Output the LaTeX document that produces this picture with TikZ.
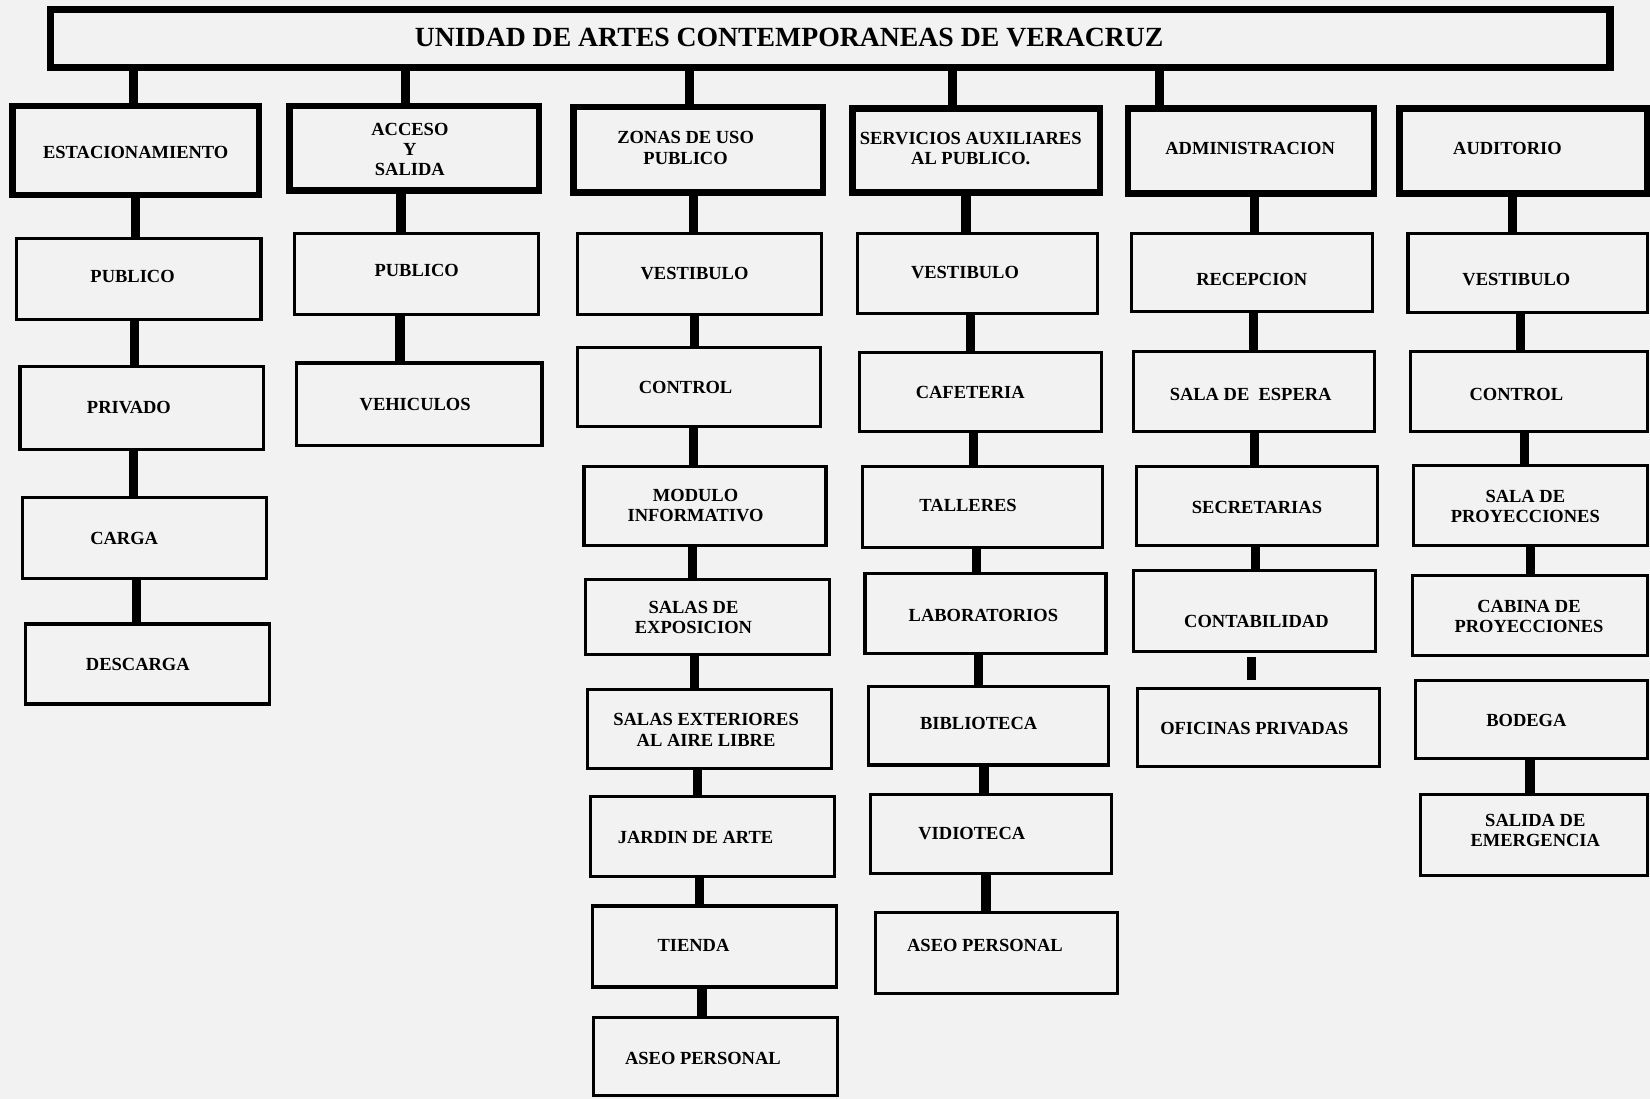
\documentclass[tikz,border=0pt]{standalone}
\usepackage{fontspec}
\setmainfont{Liberation Serif}
\newcommand\mybox[9]{\node[#1, minimum width={(#5-#3)*0.02cm}, minimum height={(#6-#4)*0.02cm},
  label={[lbl, xshift={0.02cm*(#7)}, yshift={-0.02cm*(#8)}]center:#9}] (#2) at ({(#3+#5)/2},{(#4+#6)/2}) {};}
\newcommand\link[3]{\path (#1.south) ++(#3,0) coordinate (lk); \draw[conn] (lk) -- (lk |- #2.north);}
\begin{document}
\begin{tikzpicture}[x=0.02cm,y=-0.02cm,
  lbl/.style={inner sep=0pt, align=center, font=\bfseries\fontsize{10}{11}\selectfont},
  box/.style={draw, line width=1.7pt, inner sep=0pt},
  head/.style={box, line width=3.4pt},
  titlebox/.style={draw, line width=4pt, inner sep=0pt},
  ttl/.style={inner sep=0pt, font=\bfseries\fontsize{15}{18}\selectfont},
  conn/.style={line width=5pt}]
\fill[black!5] (0,0) rectangle (1568,1044);
\useasboundingbox (0,0) rectangle (1568,1044);
% title
\node[titlebox, minimum width={1482*0.02cm}, minimum height={55*0.02cm},
  label={[ttl, xshift={-39*0.02cm}, yshift={1*0.02cm}]center:UNIDAD DE ARTES CONTEMPORANEAS DE VERACRUZ}] (T) at (789,36.5) {};
% headings
\mybox{head}{h1}{12}{101}{246}{185}{0}{2}{ESTACIONAMIENTO}
\mybox{head}{h2}{275}{101}{512}{181}{-4}{1}{ACCESO\\Y\\SALIDA}
\mybox{head}{h3}{545}{102}{782}{183}{-12}{-2}{ZONAS DE USO\\PUBLICO}
\mybox{head}{h4}{810}{103}{1045}{183}{-5}{-2}{SERVICIOS AUXILIARES\\AL PUBLICO.}
\mybox{head}{h5}{1072}{103}{1306}{184}{-1}{-2}{ADMINISTRACION}
\mybox{head}{h6}{1330}{103}{1565}{184}{-15}{-2}{AUDITORIO}
% title connectors
\foreach \d/\h in {-662/h1,-404/h2,-134/h3,116/h4,313/h5}{
  \path (T.south) ++(\d,0) coordinate (tc);
  \draw[conn] (tc) -- (tc |- \h.north);
}
% column 1
\mybox{box}{a1}{16}{227}{248}{304}{-6}{-3}{PUBLICO}
\mybox{box}{a2}{19}{348}{250}{427}{-12}{0}{PRIVADO}
\mybox{box}{a3}{21}{473}{253}{550}{-19}{0}{CARGA}
\mybox{box}{a4}{24}{593}{256}{669}{-9}{0}{DESCARGA}
\link{h1}{a1}{0}
\link{a1}{a2}{-4}
\link{a2}{a3}{-7.5}
\link{a3}{a4}{-7}
% column 2
\mybox{box}{b1}{280}{222}{512}{299}{0}{-3}{PUBLICO}
\mybox{box}{b2}{282}{345}{515}{423}{-4}{0}{VEHICULOS}
\link{h2}{b1}{-12.5}
\link{b1}{b2}{-16}
% column 3
\mybox{box}{c1}{549}{222}{781}{299}{-5}{-1}{VESTIBULO}
\mybox{box}{c2}{549}{330}{780}{405}{-13}{1}{CONTROL}
\mybox{box}{c3}{555}{443}{785}{518}{-9}{0}{MODULO\\INFORMATIVO}
\mybox{box}{c4}{556}{551}{788}{622}{-13}{0}{SALAS DE\\EXPOSICION}
\mybox{box}{c5}{558}{655}{790}{730}{-3}{1}{SALAS EXTERIORES\\AL AIRE LIBRE}
\mybox{box}{c6}{561}{757}{793}{833}{-16}{1}{JARDIN DE ARTE}
\mybox{box}{c7}{563}{861}{795}{938}{-20}{-1}{TIENDA}
\mybox{box}{c8}{564}{967}{796}{1041}{-12}{2}{ASEO PERSONAL}
\link{h3}{c1}{-4.5}
\link{c1}{c2}{-5}
\link{c2}{c3}{-5.5}
\link{c3}{c4}{-12}
\link{c4}{c5}{-12}
\link{c5}{c6}{-11}
\link{c6}{c7}{-12}
\link{c7}{c8}{-12}
% column 4
\mybox{box}{d1}{815}{222}{1043}{298}{-12}{-1}{VESTIBULO}
\mybox{box}{d2}{817}{335}{1047}{410}{-10}{0}{CAFETERIA}
\mybox{box}{d3}{820}{443}{1048}{520}{-14}{-1}{TALLERES}
\mybox{box}{d4}{822}{545}{1051}{621}{-2}{2}{LABORATORIOS}
\mybox{box}{d5}{825}{652}{1053}{727}{-9}{-2}{BIBLIOTECA}
\mybox{box}{d6}{827}{755}{1056}{830}{-18}{0}{VIDIOTECA}
\mybox{box}{d7}{832}{867}{1062}{944}{-11}{-7}{ASEO PERSONAL}
\link{h4}{d1}{-9.5}
\link{d1}{d2}{-7}
\link{d2}{d3}{-7}
\link{d3}{d4}{-6}
\link{d4}{d5}{-6.5}
\link{d5}{d6}{-4}
\link{d6}{d7}{-4.5}
% column 5
\mybox{box}{e1}{1075}{222}{1304}{296}{0}{7}{RECEPCION}
\mybox{box}{e2}{1077}{334}{1306}{410}{-3}{3}{SALA DE\ \ ESPERA}
\mybox{box}{e3}{1080}{443}{1309}{518}{0}{2}{SECRETARIAS}
\mybox{box}{e4}{1077}{542}{1307}{619}{2}{10}{CONTABILIDAD}
\mybox{box}{e5}{1081}{654}{1311}{728}{-4}{1}{OFICINAS PRIVADAS}
\link{h5}{e1}{3}
\link{e1}{e2}{1.5}
\link{e2}{e3}{0.5}
\link{e3}{e4}{-1.5}
\path (e4.south) ++(-3,4) coordinate (e4s);
\draw[conn] (e4s) -- ++(0,22) coordinate (e4e);
% column 6
\mybox{box}{f1}{1338}{222}{1566}{297}{-11}{6}{VESTIBULO}
\mybox{box}{f2}{1340}{334}{1566}{410}{-12}{3}{CONTROL}
\mybox{box}{f3}{1343}{442}{1566}{518}{-5}{1}{SALA DE\\PROYECCIONES}
\mybox{box}{f4}{1342}{547}{1566}{623}{-1}{1}{CABINA DE\\PROYECCIONES}
\mybox{box}{f5}{1345}{647}{1566}{721}{-5}{1}{BODEGA}
\mybox{box}{f6}{1350}{755}{1566}{832}{1}{-4}{SALIDA DE\\EMERGENCIA}
\link{h6}{f1}{-10}
\link{f1}{f2}{-7}
\link{f2}{f3}{-4}
\link{f3}{f4}{0}
\link{f5}{f6}{-1.5}
\end{tikzpicture}
\end{document}
